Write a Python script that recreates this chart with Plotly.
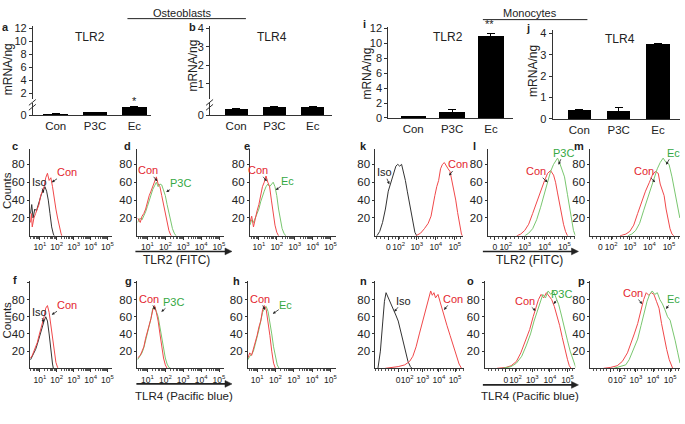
import plotly.graph_objects as go

W, H = 685, 424
FONT = "Liberation Sans, Arial, sans-serif"
RED_TXT = "#e3262e"
GREEN_TXT = "#35a843"
RED_LINE = "#f0484a"
GREEN_LINE = "#79c66f"
BLACK = "#222222"

# ---- qPCR bar data (mRNA/ng) ----
CATEGORIES = ["Con", "P3C", "Ec"]
OB_TLR2_MRNA = [0.10, 0.25, 0.72]
OB_TLR2_ERR = [0.03, 0.0, 0.0]
OB_TLR4_MRNA = [0.27, 0.36, 0.36]
OB_TLR4_ERR = [0.02, 0.0, 0.0]
MO_TLR2_MRNA = [0.2, 0.8, 11.0]
MO_TLR2_ERR = [0.05, 0.4, 0.3]
MO_TLR4_MRNA = [0.40, 0.38, 3.5]
MO_TLR4_ERR = [0.03, 0.15, 0.03]

# ---- flow histograms: (decade position, counts) ----
# osteoblasts, log10 fluorescence
C_ISO = [(0.45, 25), (0.52, 35), (0.6, 20), (0.7, 30), (0.8, 28), (0.9, 35), (1.0, 40), (1.1, 47),
         (1.2, 50), (1.3, 55), (1.4, 50), (1.5, 40), (1.6, 25), (1.7, 10), (1.8, 2), (1.85, 0)]
C_CON = [(0.45, 15), (0.5, 25), (0.55, 10), (0.65, 20), (0.75, 25), (0.85, 30), (0.95, 35), (1.05, 45),
         (1.15, 50), (1.25, 55), (1.35, 65), (1.45, 70), (1.55, 62), (1.65, 65), (1.75, 55), (1.85, 40),
         (1.95, 30), (2.05, 20), (2.15, 10), (2.25, 3), (2.3, 0)]
D_CON = [(0.45, 20), (0.6, 15), (0.7, 22), (0.8, 25), (0.9, 30), (1.0, 38), (1.1, 45), (1.2, 50),
         (1.3, 55), (1.4, 60), (1.5, 66), (1.6, 58), (1.7, 55), (1.8, 45), (1.9, 35), (2.0, 25),
         (2.1, 15), (2.2, 6), (2.3, 1), (2.35, 0)]
D_P3C = [(0.45, 15), (0.6, 20), (0.7, 18), (0.8, 22), (0.9, 27), (1.0, 33), (1.1, 40), (1.2, 47),
         (1.3, 52), (1.4, 56), (1.5, 60), (1.6, 55), (1.7, 58), (1.8, 57), (1.9, 52), (2.0, 45),
         (2.1, 35), (2.2, 25), (2.3, 15), (2.4, 8), (2.5, 3), (2.6, 0)]
E_CON = [(0.5, 15), (0.6, 22), (0.7, 10), (0.8, 20), (0.9, 28), (1.0, 35), (1.1, 45), (1.2, 55),
         (1.3, 60), (1.4, 67), (1.5, 60), (1.6, 55), (1.7, 40), (1.8, 25), (1.9, 12), (2.0, 4), (2.1, 0)]
E_EC = [(0.5, 12), (0.6, 18), (0.7, 15), (0.8, 20), (0.9, 25), (1.0, 30), (1.1, 38), (1.2, 45),
        (1.3, 50), (1.4, 55), (1.5, 58), (1.6, 55), (1.7, 58), (1.8, 60), (1.9, 55), (2.0, 45),
        (2.1, 30), (2.2, 18), (2.3, 8), (2.4, 3), (2.5, 0)]
F_ISO = [(0.45, 10), (0.55, 14), (0.65, 18), (0.75, 22), (0.85, 28), (0.95, 35), (1.05, 42), (1.15, 50),
         (1.25, 55), (1.35, 60), (1.45, 55), (1.55, 40), (1.65, 20), (1.75, 5), (1.8, 0)]
F_CON = [(0.45, 12), (0.55, 15), (0.65, 20), (0.75, 25), (0.85, 30), (0.95, 38), (1.05, 45), (1.15, 52),
         (1.25, 60), (1.35, 70), (1.45, 73), (1.55, 65), (1.65, 50), (1.75, 35), (1.85, 18), (1.95, 7),
         (2.05, 1), (2.1, 0)]
G_CON = [(0.45, 12), (0.6, 15), (0.7, 20), (0.8, 25), (0.9, 35), (1.0, 42), (1.1, 50), (1.2, 58),
         (1.3, 68), (1.4, 73), (1.5, 65), (1.6, 55), (1.7, 40), (1.8, 25), (1.9, 12), (2.0, 4), (2.1, 0)]
G_P3C = [(0.45, 10), (0.6, 14), (0.7, 18), (0.8, 24), (0.9, 32), (1.0, 40), (1.1, 48), (1.2, 58),
         (1.3, 70), (1.4, 72), (1.5, 66), (1.6, 60), (1.7, 48), (1.8, 35), (1.9, 22), (2.0, 12),
         (2.1, 5), (2.2, 1), (2.3, 0)]
H_CON = [(0.5, 12), (0.6, 18), (0.7, 15), (0.8, 22), (0.9, 30), (1.0, 38), (1.1, 48), (1.2, 55),
         (1.3, 68), (1.4, 73), (1.5, 68), (1.6, 55), (1.7, 38), (1.8, 20), (1.9, 6), (2.0, 0)]
H_EC = [(0.5, 10), (0.6, 14), (0.7, 16), (0.8, 20), (0.9, 28), (1.0, 35), (1.1, 45), (1.2, 55),
        (1.3, 65), (1.4, 70), (1.5, 72), (1.6, 66), (1.7, 55), (1.8, 40), (1.9, 25), (2.0, 12),
        (2.1, 4), (2.2, 0)]
# monocytes, biexponential display units (0 -> "0", 3.5 -> 10^5)
K_ISO = [(-0.6, 0), (-0.45, 5), (-0.3, 15), (-0.15, 30), (0.0, 50), (0.13, 60), (0.26, 70), (0.4, 78),
         (0.5, 80), (0.6, 78), (0.7, 80), (0.8, 72), (0.9, 62), (1.0, 50), (1.1, 38), (1.2, 24),
         (1.3, 12), (1.4, 4), (1.5, 0)]
K_CON = [(1.45, 0), (1.7, 3), (1.9, 8), (2.1, 14), (2.25, 22), (2.35, 35), (2.45, 45), (2.55, 55),
         (2.65, 62), (2.75, 75), (2.85, 80), (2.95, 82), (3.05, 78), (3.15, 75), (3.25, 72), (3.35, 62),
         (3.45, 50), (3.55, 40), (3.65, 26), (3.75, 12), (3.85, 2), (3.9, 0)]
L_CON = [(1.1, 0), (1.3, 2), (1.5, 6), (1.7, 13), (1.9, 25), (2.1, 38), (2.3, 50), (2.5, 62),
         (2.65, 70), (2.8, 73), (2.95, 68), (3.05, 60), (3.15, 48), (3.25, 36), (3.35, 24), (3.45, 13),
         (3.55, 5), (3.65, 0)]
L_P3C = [(1.5, 0), (1.7, 3), (1.9, 8), (2.1, 18), (2.3, 32), (2.5, 47), (2.65, 60), (2.8, 72),
         (2.95, 80), (3.05, 84), (3.15, 87), (3.25, 82), (3.35, 76), (3.5, 66), (3.65, 46), (3.8, 24),
         (3.95, 6), (4.05, 0)]
M_CON = [(1.0, 0), (1.3, 2), (1.5, 5), (1.7, 12), (1.9, 25), (2.1, 38), (2.3, 50), (2.5, 60),
         (2.65, 68), (2.8, 72), (2.95, 70), (3.05, 58), (3.15, 50), (3.25, 45), (3.35, 30), (3.45, 18),
         (3.55, 8), (3.65, 2), (3.75, 0)]
M_EC = [(1.4, 0), (1.6, 2), (1.8, 6), (2.0, 14), (2.2, 28), (2.4, 42), (2.6, 55), (2.75, 65),
        (2.9, 75), (3.05, 82), (3.2, 87), (3.35, 82), (3.5, 80), (3.65, 66), (3.8, 50), (3.95, 32),
        (4.05, 20)]
N_ISO = [(-1.25, 0), (-1.1, 20), (-0.95, 55), (-0.85, 78), (-0.75, 88), (-0.65, 84), (-0.55, 80),
         (-0.45, 75), (-0.3, 70), (-0.15, 62), (0.0, 55), (0.15, 44), (0.3, 32), (0.45, 20), (0.6, 8),
         (0.75, 2), (0.85, 0)]
N_CON = [(-0.8, 0), (-0.4, 1), (0.0, 2), (0.4, 4), (0.7, 8), (0.9, 14), (1.1, 25), (1.3, 40),
         (1.5, 55), (1.7, 70), (1.85, 78), (2.0, 90), (2.1, 85), (2.2, 88), (2.3, 82), (2.45, 86),
         (2.6, 76), (2.8, 62), (3.0, 50), (3.2, 38), (3.4, 25), (3.6, 14), (3.75, 5), (3.9, 0)]
O_CON = [(-0.5, 0), (0.0, 1), (0.3, 3), (0.6, 8), (0.85, 18), (1.1, 32), (1.35, 45), (1.55, 60),
         (1.7, 71), (1.85, 80), (2.0, 86), (2.15, 82), (2.3, 88), (2.45, 84), (2.6, 80), (2.75, 72),
         (2.9, 62), (3.05, 50), (3.2, 36), (3.35, 22), (3.5, 10), (3.6, 3), (3.7, 0)]
O_P3C = [(-0.2, 0), (0.3, 2), (0.6, 6), (0.9, 14), (1.15, 26), (1.4, 40), (1.6, 55), (1.8, 68),
         (1.95, 78), (2.1, 86), (2.25, 82), (2.4, 90), (2.55, 86), (2.7, 90), (2.85, 82), (3.0, 74),
         (3.15, 62), (3.3, 48), (3.5, 32), (3.65, 20), (3.8, 10), (3.95, 2), (4.0, 0)]
P_CON = [(-0.4, 0), (0.0, 1), (0.4, 3), (0.7, 8), (1.0, 18), (1.2, 28), (1.4, 40), (1.6, 52),
         (1.8, 68), (1.95, 80), (2.1, 88), (2.25, 85), (2.4, 88), (2.55, 86), (2.7, 78), (2.85, 70),
         (3.0, 52), (3.15, 36), (3.3, 22), (3.45, 10), (3.6, 2), (3.65, 0)]
P_EC = [(0.2, 0), (0.6, 2), (0.9, 4), (1.1, 10), (1.35, 22), (1.6, 34), (1.8, 50), (2.0, 66),
        (2.15, 78), (2.3, 86), (2.45, 90), (2.6, 86), (2.75, 88), (2.9, 80), (3.05, 75), (3.2, 68),
        (3.35, 60), (3.5, 56), (3.65, 45), (3.8, 32), (3.95, 18), (4.08, 6)]

LOG_TICKS = [1, 2, 3, 4, 5]
BIEX_TICKS = [0, 0.55, 1.5, 2.5, 3.5]
BIEX_LABELS = ["0", "10<sup>2</sup>", "10<sup>3</sup>", "10<sup>4</sup>", "10<sup>5</sup>"]


def fx(px):
    return px / W


def fy(py):
    return 1 - py / H


AXIS = dict(showline=True, linecolor="#333", linewidth=1, showgrid=False, zeroline=False,
            ticks="outside", ticklen=3, tickwidth=1, tickcolor="#333", fixedrange=True,
            tickfont=dict(size=11, color=BLACK, family=FONT))

fig = go.Figure()
axes = {}
annotations = []
shapes = []
count = {"x": 0, "y": 0}


def new_axis(kind):
    count[kind] += 1
    n = count[kind]
    suffix = "" if n == 1 else str(n)
    return kind + suffix, f"{kind}axis{suffix}"


def text(s, x, y, size=11, color=BLACK, angle=0, bold=False, xanchor="center"):
    annotations.append(dict(text=f"<b>{s}</b>" if bold else s, x=fx(x), y=fy(y), xref="paper", yref="paper",
                            showarrow=False, textangle=angle, xanchor=xanchor, yanchor="middle",
                            font=dict(size=size, color=color, family=FONT)))


def hline(x0, x1, y, width=1):
    shapes.append(dict(type="line", xref="paper", yref="paper", x0=fx(x0), x1=fx(x1), y0=fy(y), y1=fy(y),
                       line=dict(color=BLACK, width=width)))


def arrow_axis(x0, x1, y):
    hline(x0, x1 - 5, y, width=1.6)
    path = f"M {fx(x1 - 7)} {fy(y - 3.5)} L {fx(x1)} {fy(y)} L {fx(x1 - 7)} {fy(y + 3.5)} Z"
    shapes.append(dict(type="path", xref="paper", yref="paper", path=path, fillcolor=BLACK,
                       line=dict(color=BLACK, width=0.5)))


# ---- bar panels ----
BAR_PANELS = [
    dict(letter="a", pos=(6, 23), title="TLR2", tpos=(90, 33), ylab=(8, 66), values=OB_TLR2_MRNA,
         errors=OB_TLR2_ERR, xpx=(33, 152), xrange=[-0.58, 2.43], width=0.63,
         lower=(113, 101, [0, 1.0]), upper=(97, 22, [1.0, 12.3], [2, 4, 6, 8, 10, 12]), star=("*", 135, 99)),
    dict(letter="b", pos=(193, 23), title="TLR4", tpos=(273, 33), ylab=(194, 62), values=OB_TLR4_MRNA,
         errors=OB_TLR4_ERR, xpx=(211, 333), xrange=[-0.68, 2.49], width=0.6,
         lower=(113, 101, [0, 0.5]), upper=(97, 22, [0.15, 4.1], [1, 2, 3, 4]), star=None),
    dict(letter="i", pos=(366, 19), title="TLR2", tpos=(450, 33), ylab=(369, 70), values=MO_TLR2_MRNA,
         errors=MO_TLR2_ERR, xpx=(390, 515), xrange=[-0.64, 2.56], width=0.65,
         single=(116, 23, [0, 12.1], [0, 2, 4, 6, 8, 10, 12]), star=("**", 492, 20)),
    dict(letter="j", pos=(530, 24), title="TLR4", tpos=(623, 35), ylab=(536, 68), values=MO_TLR4_MRNA,
         errors=MO_TLR4_ERR, xpx=(555, 683), xrange=[-0.68, 2.56], width=0.6,
         single=(117, 26, [0, 4.14], [0, 1, 2, 3, 4]), star=None),
]

for p in BAR_PANELS:
    xname, xkey = new_axis("x")
    yname, ykey = new_axis("y")
    axes[xkey] = dict(AXIS, domain=[fx(p["xpx"][0]), fx(p["xpx"][1])], anchor=yname, type="category",
                      range=p["xrange"], ticks="", ticklen=0, tickfont=dict(size=11.5, color=BLACK, family=FONT))
    if "lower" in p:
        y0, y1, rng = p["lower"]
        axes[ykey] = dict(AXIS, domain=[fy(y0), fy(y1)], anchor=xname, range=rng, tickvals=[0])
        uname, ukey = new_axis("y")
        u0, u1, urng, uticks = p["upper"]
        axes[ukey] = dict(AXIS, domain=[fy(u0), fy(u1)], anchor=xname, range=urng, tickvals=uticks)
        fig.add_trace(go.Scatter(x=CATEGORIES, y=[None] * 3, xaxis=xname, yaxis=uname, mode="lines",
                                 hoverinfo="skip", showlegend=False))
        ax = p["xpx"][0]
        for dy in (0, 5):
            shapes.append(dict(type="line", xref="paper", yref="paper", x0=fx(ax - 4), x1=fx(ax + 3),
                               y0=fy(103 + dy), y1=fy(97 + dy), line=dict(color="#333", width=1)))
    else:
        y0, y1, rng, ticks = p["single"]
        axes[ykey] = dict(AXIS, domain=[fy(y0), fy(y1)], anchor=xname, range=rng, tickvals=ticks)
    fig.add_trace(go.Bar(x=CATEGORIES, y=p["values"], xaxis=xname, yaxis=yname, width=p["width"],
                         marker=dict(color="black", line=dict(width=0)),
                         error_y=dict(type="data", array=p["errors"], color="black", thickness=1, width=4),
                         showlegend=False, hoverinfo="skip"))
    text(p["letter"], *p["pos"], size=11, bold=True)
    text(p["title"], *p["tpos"], size=12)
    text("mRNA/ng", *p["ylab"], size=12, angle=-90)
    if p["star"]:
        text(p["star"][0], p["star"][1], p["star"][2], size=11)

# ---- histogram panels ----
ROW1 = (237, 148, [0, 97], [20, 40, 60, 80], ["20", "40", "60", "80"])
ROW2 = (373, 283, [0, 102], [20, 40, 60, 80, 100], ["20", "40", "60", "80", ""])
ISO, CON, P3C, EC = ("Iso", BLACK, "#333333"), ("Con", RED_TXT, RED_LINE), ("P3C", GREEN_TXT, GREEN_LINE), \
    ("Ec", GREEN_TXT, GREEN_LINE)

HIST_PANELS = [
    dict(letter="c", pos=(15, 145), row=ROW1, xpx=(30, 112), xrange=[0.41, 5.24], scale="log",
         curves=[(C_ISO, ISO, (40, 182), (44, 193)), (C_CON, CON, (67, 172), (52, 182))]),
    dict(letter="d", pos=(128, 145), row=ROW1, xpx=(138, 225), xrange=[0.44, 5.28], scale="log",
         curves=[(D_P3C, P3C, (181, 183), (167, 192)), (D_CON, CON, (149, 170), (158, 181))]),
    dict(letter="e", pos=(248, 145), row=ROW1, xpx=(251, 337), xrange=[0.5, 5.28], scale="log",
         curves=[(E_EC, EC, (289, 181), (277, 190)), (E_CON, CON, (259, 170), (268, 181))]),
    dict(letter="f", pos=(15, 282), row=ROW2, xpx=(30, 112), xrange=[0.41, 5.24], scale="log",
         curves=[(F_ISO, ISO, (40, 315), (44, 326)), (F_CON, CON, (67, 308), (52, 318))]),
    dict(letter="g", pos=(129, 283), row=ROW2, xpx=(138, 225), xrange=[0.44, 5.28], scale="log",
         curves=[(G_P3C, P3C, (174, 305), (162, 315)), (G_CON, CON, (150, 302), (156, 313))]),
    dict(letter="h", pos=(238, 283), row=ROW2, xpx=(249, 337), xrange=[0.5, 5.28], scale="log",
         curves=[(H_EC, EC, (287, 308), (274, 317)), (H_CON, CON, (261, 302), (266, 313))]),
    dict(letter="k", pos=(365, 145), row=ROW1, xpx=(377, 465), xrange=[-0.68, 3.93], scale="biex",
         curves=[(K_ISO, ISO, (386, 172), (391, 184)), (K_CON, CON, (460, 164), (451, 175))]),
    dict(letter="l", pos=(477, 145), row=ROW1, xpx=(490, 578), xrange=[-0.35, 4.05], scale="biex",
         curves=[(L_CON, CON, (538, 171), (550, 182)), (L_P3C, P3C, (566, 152), (561, 164))]),
    dict(letter="m", pos=(582, 145), row=ROW1, xpx=(593, 683), xrange=[-0.51, 4.06], scale="biex",
         curves=[(M_CON, CON, (647, 171), (658, 182)), (M_EC, EC, (676, 152), (669, 164))]),
    dict(letter="n", pos=(365, 283), row=ROW2, xpx=(377, 466), xrange=[-1.41, 4.05], scale="biex",
         curves=[(N_ISO, ISO, (405, 304), (396, 315)), (N_CON, CON, (455, 302), (446, 313))]),
    dict(letter="o", pos=(473, 283), row=ROW2, xpx=(487, 578), xrange=[-1.19, 3.95], scale="biex",
         curves=[(O_CON, CON, (527, 304), (538, 314)), (O_P3C, P3C, (564, 297), (556, 307))]),
    dict(letter="p", pos=(584, 283), row=ROW2, xpx=(593, 683), xrange=[-1.17, 4.08], scale="biex",
         curves=[(P_CON, CON, (636, 296), (645, 307)), (P_EC, EC, (676, 302), (669, 312))]),
]

LOG_MINOR = [m * 10 ** d for d in range(0, 6) for m in range(2, 10)]

for p in HIST_PANELS:
    xname, xkey = new_axis("x")
    yname, ykey = new_axis("y")
    y0, y1, yrng, yticks, ylabels = p["row"]
    xax = dict(AXIS, domain=[fx(p["xpx"][0]), fx(p["xpx"][1])], anchor=yname, tickangle=0,
               tickfont=dict(size=8.5, color=BLACK, family=FONT))
    if p["scale"] == "log":
        xax.update(type="log", range=p["xrange"], tickvals=[10 ** k for k in LOG_TICKS],
                   ticktext=[f"10<sup>{k}</sup>" for k in LOG_TICKS],
                   minor=dict(ticks="outside", ticklen=2, tickcolor="#555", tickvals=LOG_MINOR))
    else:
        xax.update(range=p["xrange"], tickvals=BIEX_TICKS, ticktext=BIEX_LABELS,
                   minor=dict(ticks="outside", ticklen=2, tickcolor="#555", dtick=0.2, tick0=0))
    axes[xkey] = xax
    axes[ykey] = dict(AXIS, domain=[fy(y0), fy(y1)], anchor=xname, range=yrng, tickvals=yticks,
                      ticktext=ylabels, ticklen=2, tickfont=dict(size=11.5, color=BLACK, family=FONT))
    for data, (label, tcolor, lcolor), tpos, hpos in p["curves"]:
        xs = [10 ** v if p["scale"] == "log" else v for v, _ in data]
        fig.add_trace(go.Scatter(x=xs, y=[c for _, c in data], xaxis=xname, yaxis=yname, mode="lines",
                                 line=dict(color=lcolor, width=1), showlegend=False, hoverinfo="skip",
                                 cliponaxis=True))
        annotations.append(dict(text=label, x=fx(hpos[0]), y=fy(hpos[1]), xref="paper", yref="paper",
                                ax=tpos[0] - hpos[0], ay=tpos[1] - hpos[1], showarrow=True, arrowhead=2,
                                arrowsize=0.7, arrowwidth=0.8, arrowcolor=BLACK, borderpad=0,
                                font=dict(size=11, color=tcolor, family=FONT)))
    text(p["letter"], *p["pos"], size=11, bold=True)

text("Counts", 7, 190, size=11.5, angle=-90)
text("Counts", 7, 323, size=11.5, angle=-90)

# ---- group headers and axis captions ----
text("Osteoblasts", 183, 8, size=11)
hline(128, 247, 14)
text("Monocytes", 532, 8, size=11)
hline(485, 590, 15)

arrow_axis(136, 233, 253)
text("TLR2 (FITC)", 177, 262, size=12)
arrow_axis(485, 581, 253)
text("TLR2 (FITC)", 532, 262, size=12)
arrow_axis(137, 233, 389)
text("TLR4 (Pacific blue)", 185, 401, size=11.5)
arrow_axis(485, 581, 390)
text("TLR4 (Pacific blue)", 532, 401, size=11.5)

fig.update_layout(width=W, height=H, autosize=False, margin=dict(l=0, r=0, t=0, b=0),
                  paper_bgcolor="white", plot_bgcolor="white", showlegend=False, bargap=0,
                  font=dict(family=FONT, size=11, color=BLACK),
                  annotations=annotations, shapes=shapes, **axes)

# the page body keeps its default 8px margin otherwise, which shifts the figure
fig.write_html("out.html", config={"displayModeBar": False, "staticPlot": True},
               post_script="document.body.style.margin = '0px';")
